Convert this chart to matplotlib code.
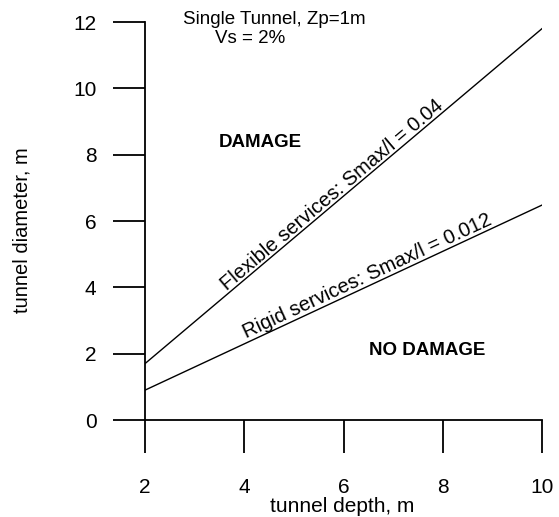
import matplotlib
matplotlib.use("Agg")
import matplotlib.pyplot as plt

depth = [2, 10]
flexible_diam = [1.7, 11.8]
rigid_diam = [0.9, 6.48]
xticks = [2, 4, 6, 8, 10]
yticks = [0, 2, 4, 6, 8, 10, 12]

plt.rcParams['font.family'] = ['Liberation Sans', 'DejaVu Sans']

fig = plt.figure(figsize=(5.59, 5.17), dpi=100)
ax = fig.add_axes([145/559, 1 - 420/517, (542-145)/559, (420-22)/517])

ax.plot(depth, flexible_diam, color='black', lw=1.0)
ax.plot(depth, rigid_diam, color='black', lw=1.0)

ax.set_xlim(2, 10)
ax.set_ylim(0, 12)
ax.spines['top'].set_visible(False)
ax.spines['right'].set_visible(False)
ax.spines['left'].set_linewidth(1.3)
ax.spines['bottom'].set_linewidth(1.3)
ax.set_xticks(xticks)
ax.set_yticks(yticks)
ax.tick_params(axis='x', direction='out', length=24, width=1.3, pad=18, labelsize=15)
ax.tick_params(axis='y', direction='out', length=23, width=1.3, pad=12, labelsize=15)

ax.set_xlabel('tunnel depth, m', fontsize=15, va='center')
ax.xaxis.set_label_coords(0.496, -0.218)
ax.set_ylabel('tunnel diameter, m', fontsize=14.5, va='center')
ax.yaxis.set_label_coords(-0.31, 0.477)

ax.text(3.66, 3.9, 'Flexible services: Smax/l = 0.04', rotation=40.2,
        rotation_mode='anchor', ha='left', va='baseline', fontsize=14.5)
ax.text(4.04, 2.45, 'Rigid services: Smax/l = 0.012', rotation=24.9,
        rotation_mode='anchor', ha='left', va='baseline', fontsize=14.5)
ax.text(4.32, 8.38, 'DAMAGE', ha='center', va='center', fontsize=13.5, fontweight='bold')
ax.text(7.69, 2.11, 'NO DAMAGE', ha='center', va='center', fontsize=13.5, fontweight='bold')
ax.text(2.77, 12.08, 'Single Tunnel, Zp=1m', ha='left', va='center', fontsize=13.5, clip_on=False)
ax.text(3.41, 11.5, 'Vs = 2%', ha='left', va='center', fontsize=13.5)

fig.savefig('out.png', dpi=100)
